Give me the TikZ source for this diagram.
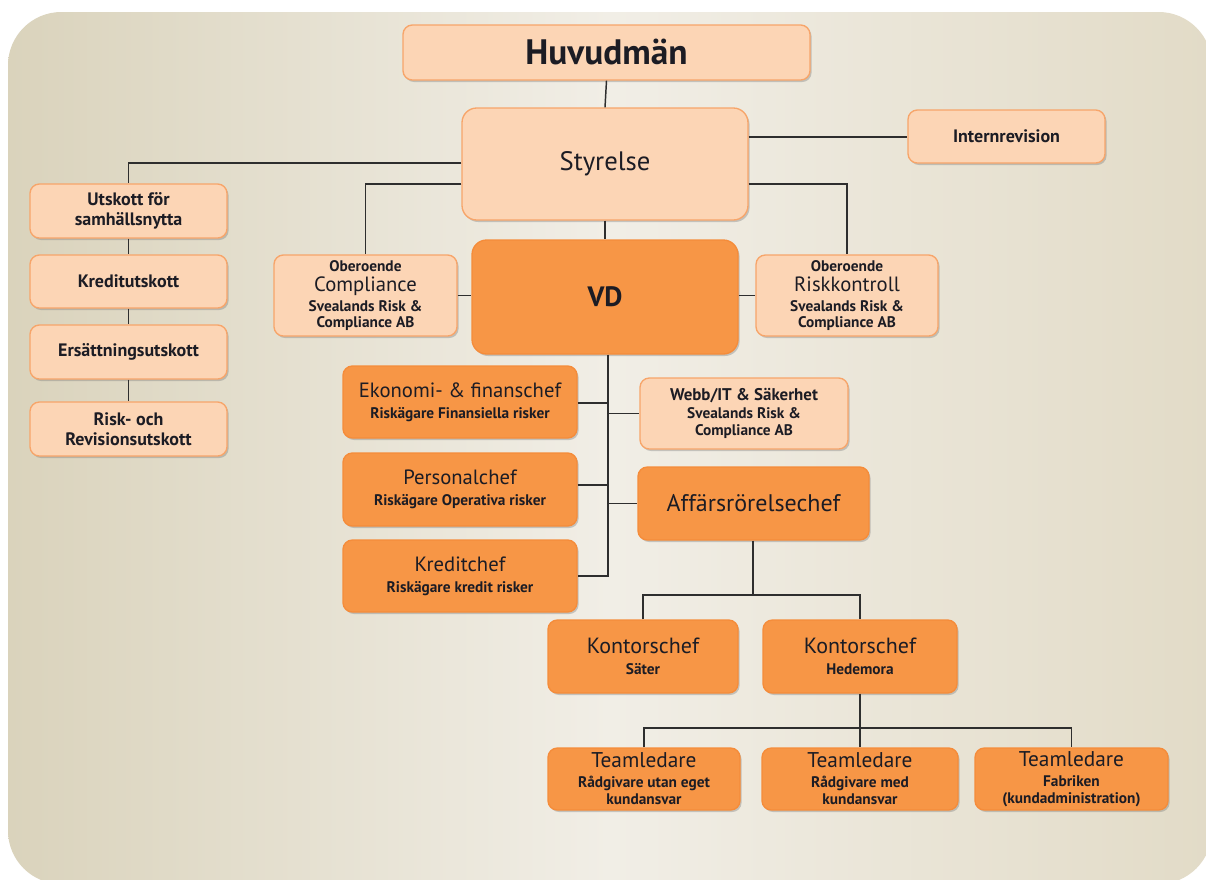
\documentclass[tikz,border=0pt]{standalone}
\usepackage{fontspec}
\setmainfont{PT Sans}
\usetikzlibrary{shadows}
\definecolor{bgA}{HTML}{DAD3BC}
\definecolor{bgB}{HTML}{F1EEE6}
\definecolor{bgC}{HTML}{E2DBC7}
\definecolor{lightfill}{HTML}{FCD5B5}
\definecolor{lightline}{HTML}{F7A56A}
\definecolor{darkfill}{HTML}{F79646}
\definecolor{darkline}{HTML}{F58C3A}
\definecolor{txt}{HTML}{1C1C24}
\definecolor{conn}{HTML}{2E2E2E}
\tikzset{
  boxbase/.style={rounded corners=7pt, line width=1pt, inner sep=0pt, align=center, text=txt,
    font=\fontsize{11.5}{12}\selectfont,
    drop shadow={shadow xshift=1.2pt, shadow yshift=-1.5pt, opacity=0.35, fill=black!55}},
  lightbox/.style={boxbase, fill=lightfill, draw=lightline},
  darkbox/.style={boxbase, fill=darkfill, draw=darkline},
  conline/.style={draw=conn, line width=1.1pt},
  smallbold/.style={font=\fontsize{13.5}{15}\selectfont\bfseries},
}
\newcommand\sub[1]{{\fontsize{11.5}{12}\selectfont\bfseries #1}}
\newcommand\ttl[1]{{\fontsize{15.5}{17}\selectfont #1}}
\newcommand\bx[7]{\node[#6, minimum width={(#4-#2)*0.75pt}, minimum height={(#5-#3)*0.75pt}] (#1) at ({(#2+#4)/2},{(#3+#5)/2}) {#7};}
\begin{document}
\begin{tikzpicture}[x=0.75pt,y=-0.75pt]
\useasboundingbox (0,0) rectangle (1206,879);
\shade[left color=bgA, right color=bgC, middle color=bgB, rounded corners=40pt] (8,12) rectangle (1212,884);
% nodes
\bx{huv}{403}{25}{810}{80}{lightbox}{\fontsize{26.5}{30}\selectfont\bfseries Huvudmän}
\bx{sty}{462}{108}{748}{220}{lightbox, rounded corners=11pt}{\fontsize{20}{23}\selectfont Styrelse}
\bx{int}{908}{110}{1105}{163}{lightbox, smallbold}{Internrevision}
\bx{uts}{30}{184}{227}{238}{lightbox, smallbold}{Utskott för\\ samhällsnytta}
\bx{kut}{30}{255}{227}{308}{lightbox, smallbold}{Kreditutskott}
\bx{ers}{30}{325}{227}{379}{lightbox, smallbold}{Ersättningsutskott}
\bx{rev}{30}{402}{227}{456}{lightbox, smallbold}{Risk- och\\ Revisionsutskott}
\bx{com}{274}{255}{457}{336}{lightbox}{\sub{Oberoende}\\[3pt] \ttl{Compliance}\\[3pt] \sub{Svealands Risk \&}\\ \sub{Compliance AB}}
\bx{vd}{472}{240}{738}{354}{darkbox, rounded corners=11pt}{\fontsize{21}{24}\selectfont\bfseries VD}
\bx{rkk}{756}{255}{938}{336}{lightbox}{\sub{Oberoende}\\[3pt] \ttl{Riskkontroll}\\[3pt] \sub{Svealands Risk \&}\\ \sub{Compliance AB}}
\bx{eko}{343}{366}{577}{438}{darkbox}{\ttl{Ekonomi- \& finanschef}\\[4pt] \sub{Riskägare Finansiella risker}}
\bx{web}{640}{378}{848}{449}{lightbox}{{\fontsize{12.7}{14}\selectfont\bfseries Webb/IT \& Säkerhet}\\[1.5pt] \sub{Svealands Risk \&}\\[0.5pt] \sub{Compliance AB}}
\bx{per}{343}{453}{577}{526}{darkbox}{\ttl{Personalchef}\\[4pt] \sub{Riskägare Operativa risker}}
\bx{aff}{638}{467}{869}{540}{darkbox}{\fontsize{18}{20}\selectfont Affärsrörelsechef}
\bx{kre}{343}{540}{577}{612}{darkbox}{\ttl{Kreditchef}\\[4pt] \sub{Riskägare kredit risker}}
\bx{sat}{548}{620}{738}{693}{darkbox}{{\fontsize{16.5}{18}\selectfont Kontorschef}\\[4pt] \sub{Säter}}
\bx{hed}{763}{620}{957}{693}{darkbox}{{\fontsize{16.5}{18}\selectfont Kontorschef}\\[4pt] \sub{Hedemora}}
\bx{tl1}{548}{748}{740}{810}{darkbox}{{\fontsize{16}{17}\selectfont Teamledare}\\[3pt] \sub{Rådgivare utan eget}\\[0.7pt] \sub{kundansvar}}
\bx{tl2}{762}{748}{958}{810}{darkbox}{{\fontsize{16}{17}\selectfont Teamledare}\\[3pt] \sub{Rådgivare med}\\[0.7pt] \sub{kundansvar}}
\bx{tl3}{975}{748}{1168}{810}{darkbox}{{\fontsize{16}{17}\selectfont Teamledare}\\[3pt] \sub{Fabriken}\\[0.7pt] \sub{(kundadministration)}}
% coordinates
\coordinate (vdbus) at (608,576);
\coordinate (affbus) at (753,595);
\coordinate (hedbus) at (860,728);
% connectors
\draw[conline] (huv.south) -- (sty.north);
\draw[conline] (sty.west |- 0,163) -| (uts.north);
\draw[conline] (sty.east |- 0,137) -- (int.west |- 0,137);
\draw[conline] (sty.west |- 0,184) -| (com.north);
\draw[conline] (sty.east |- 0,184) -| (rkk.north);
\draw[conline] (sty.south) -- (vd.north);
\draw[conline] (uts.south) -- (kut.north);
\draw[conline] (kut.south) -- (ers.north);
\draw[conline] (ers.south) -- (rev.north);
\draw[conline] (com.east) -- (vd.west |- com.east);
\draw[conline] (vd.east |- rkk.west) -- (rkk.west);
\draw[conline] (vd.south -| vdbus) -- (vdbus) -- (kre.east |- vdbus);
\draw[conline] (eko.east |- 0,403) -- (vdbus |- 0,403);
\draw[conline] (vdbus |- web.west) -- (web.west);
\draw[conline] (per.east |- 0,485) -- (vdbus |- 0,485);
\draw[conline] (vdbus |- aff.west) -- (aff.west);
\draw[conline] (aff.south -| affbus) -- (affbus);
\draw[conline] (sat.north) |- (affbus) -| (hed.north);
\draw[conline] (hed.south -| hedbus) -- (hedbus);
\draw[conline] (tl1.north) |- (hedbus) -| (tl3.north);
\draw[conline] (hedbus) -- (tl2.north -| hedbus);
\end{tikzpicture}
\end{document}
